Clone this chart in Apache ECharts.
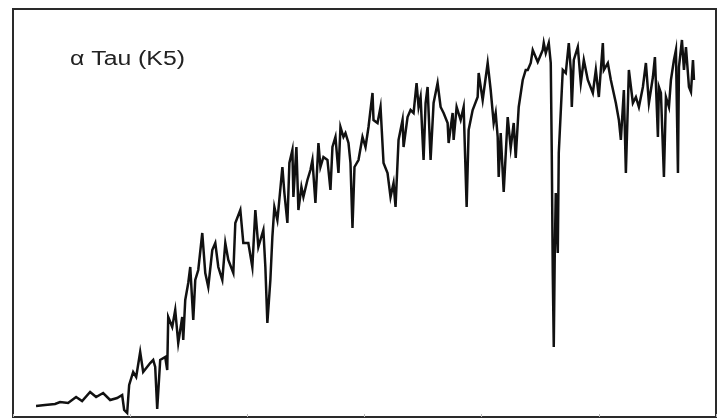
<!DOCTYPE html>
<html>
<head>
<meta charset="utf-8">
<script src="https://cdn.jsdelivr.net/npm/echarts@6/dist/echarts.min.js"></script>
<style>
html,body{margin:0;padding:0;background:#fff;}
#chart{width:727px;height:419px;}
</style>
</head>
<body>
<div id="chart"></div>
<script>
// Title label
var starLabel = "α Tau (K5)";
// x positions (arbitrary wavelength units) and relative flux values
var wave = [23,32,42,47,55,63,69,77,83,90,97,104,109,111,114,116,120,123,127,130,137,140,142,144,147,152,154,155,159,162,165,169,170,172,175,177,180,182,185,189,192,195,199,202,205,209,212,215,220,222,227,230,235,239,242,245,250,252,254,257,259,261,264,265,269,271,274,276,279,280,283,285,288,290,294,297,299,302,305,307,310,314,317,319,322,325,327,330,332,335,337,339,341,345,349,352,355,359,360,364,367,370,374,377,380,382,385,389,390,394,397,400,403,405,407,410,412,414,417,420,424,427,430,434,435,439,440,443,447,450,453,455,459,464,465,469,474,477,480,482,484,485,487,490,494,497,500,502,505,509,512,514,517,519,524,529,530,532,535,537,538,539,540,541,542,544,545,549,552,555,557,558,560,564,567,570,574,579,582,585,589,590,594,597,602,605,607,610,612,615,619,622,625,629,632,635,639,641,644,645,647,650,652,655,657,660,662,664,665,668,670,672,675,677,679,680];
var flux = [11,12,13,15,14,20,16,25,20,24,17,19,22,7,4,32,45,40,65,45,54,57,50,8,57,60,47,100,90,107,74,100,77,117,134,150,97,137,147,184,144,130,167,174,150,137,174,157,144,194,207,174,174,150,207,170,187,150,94,137,180,210,197,207,250,224,194,254,267,220,270,207,230,220,237,247,257,214,274,250,260,257,227,270,280,244,290,280,284,274,254,189,250,257,280,270,290,324,297,294,310,254,244,220,234,210,277,297,270,300,307,304,334,310,320,257,314,330,257,314,334,310,304,294,274,304,277,310,297,310,210,287,307,320,344,317,354,327,294,304,280,240,284,225,300,269,294,259,310,337,347,347,354,367,355,367,374,364,374,354,264,144,70,164,224,164,264,347,344,374,347,310,357,370,334,357,337,324,347,320,374,347,354,337,314,297,277,327,244,347,314,320,310,330,354,314,340,360,280,330,324,240,320,310,337,357,367,244,350,377,347,370,330,325,357,337];
// axis tick positions
var xMin = 0, xMax = 702, xStep = 117;
var yMin = 0, yMax = 408;

var data = wave.map(function(w, i){ return [w, flux[i]]; });

var chart = echarts.init(document.getElementById('chart'), null, {renderer:'canvas'});
chart.setOption({
  animation: false,
  backgroundColor: '#fff',
  graphic: [{
    type: 'text',
    left: 70, top: 49,
    scaleX: 1.24, scaleY: 1,
    style: {text: starLabel, fontFamily: 'Liberation Sans, Arial, sans-serif', fontSize: 20, fill: '#222'}
  }],
  grid: {left: 13, top: 9, right: 11, bottom: 2, show: true, borderWidth: 2, borderColor: '#2a2a2a', backgroundColor: '#fff'},
  xAxis: {
    type: 'value', min: xMin, max: xMax, interval: xStep,
    axisLine: {show: false},
    axisTick: {show: true, inside: true, length: 3, lineStyle: {color: '#bbb', width: 1}},
    axisLabel: {show: false},
    splitLine: {show: false}
  },
  yAxis: {
    type: 'value', min: yMin, max: yMax,
    axisLine: {show: false}, axisTick: {show: false}, axisLabel: {show: false}, splitLine: {show: false}
  },
  series: [{
    type: 'line', data: data, showSymbol: false, symbol: 'none',
    lineStyle: {color: '#111', width: 2.5, join: 'miter'},
    z: 1
  }]
});
</script>
</body>
</html>
